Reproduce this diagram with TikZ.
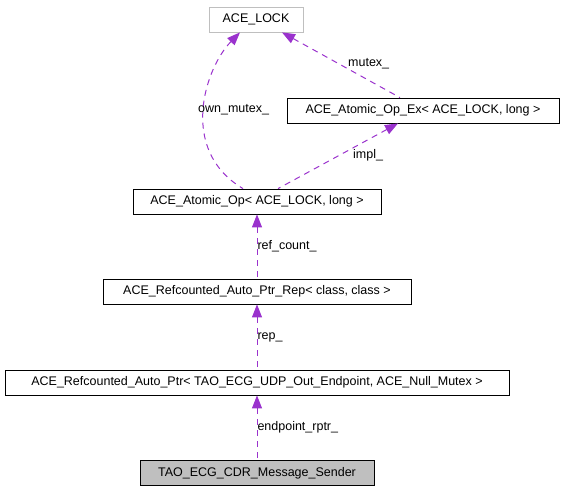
\documentclass[tikz,border=0pt]{standalone}
\usepackage{fontspec}
\setmainfont{Liberation Sans}
\usetikzlibrary{arrows.meta}
\definecolor{edgepurple}{HTML}{9A32CD}
\definecolor{boxgray}{HTML}{BFBFBF}
\newcommand{\dfont}{\fontsize{12.5}{14}\selectfont}

\begin{document}
\begin{tikzpicture}[x=1pt,y=-1pt,
   cls/.style={draw=black,line width=0.8pt,minimum height=25pt,inner sep=0pt,font=\dfont},
   dep/.style={draw=edgepurple,line width=1pt,dash pattern=on 6pt off 5pt,
     {Triangle[length=13pt,width=10pt]}-},
   lbl/.style={inner sep=0pt,anchor=west,font=\dfont}]
   \useasboundingbox (0,0) rectangle (564,491);
   % classes
   \node[cls,draw=boxgray,minimum width=94pt] (lock) at (256,19.5) {ACE\_LOCK};
   \node[cls,minimum width=272pt] (opex) at (423,110.5) {ACE\_Atomic\_Op\_Ex\textless{} ACE\_LOCK, long \textgreater};
   \node[cls,minimum width=248pt] (op) at (257,201.5) {ACE\_Atomic\_Op\textless{} ACE\_LOCK, long \textgreater};
   \node[cls,minimum width=308pt] (rep) at (257,291.5) {ACE\_Refcounted\_Auto\_Ptr\_Rep\textless{} class, class \textgreater};
   \node[cls,minimum width=504pt] (ptr) at (257,382.5) {ACE\_Refcounted\_Auto\_Ptr\textless{} TAO\_ECG\_UDP\_Out\_Endpoint, ACE\_Null\_Mutex \textgreater};
   \node[cls,fill=boxgray,minimum width=234pt] (sender) at (257,473) {TAO\_ECG\_CDR\_Message\_Sender};
   % members
   \draw[dep] ([xshift=-16pt]lock.south) .. controls (205,68) and (178,150) .. ([xshift=-14pt]op.north);
   \node[lbl] (ownlbl) at (198,110) {own\_mutex\_};
   \draw[dep] ([xshift=26pt]lock.south) -- ([xshift=-23pt]opex.north);
   \node[lbl] (mutexlbl) at (348,64) {mutex\_};
   \draw[dep] ([xshift=-25pt]opex.south) -- ([xshift=21pt]op.north);
   \node[lbl] (impllbl) at (353,155) {impl\_};
   \draw[dep] (op.south) -- node[lbl] {ref\_count\_} (rep.north);
   \draw[dep] (rep.south) -- node[lbl] {rep\_} (ptr.north);
   \draw[dep] (ptr.south) -- node[lbl] {endpoint\_rptr\_} (sender.north);
\end{tikzpicture}
\end{document}
